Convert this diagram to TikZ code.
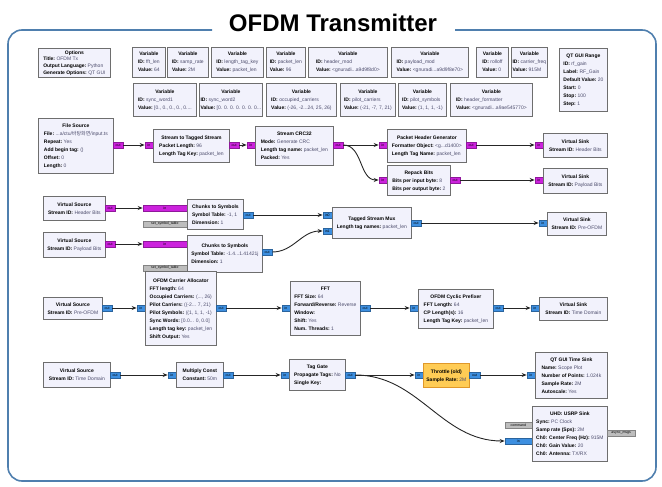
\documentclass[tikz,border=0pt]{standalone}
\usepackage{fontspec}
\setmainfont{Liberation Sans}
\newfontfamily\krfont{Noto Sans CJK KR}
\usetikzlibrary{arrows.meta, positioning}

\definecolor{blkfill}{HTML}{F2F2FC}
\definecolor{blkline}{HTML}{6E6E6E}
\definecolor{valtext}{HTML}{4C4C6C}
\definecolor{bytecol}{HTML}{CC22DD}
\definecolor{cplxcol}{HTML}{3D8FE0}
\definecolor{msgcol}{HTML}{BDBDBD}
\definecolor{framecol}{HTML}{4F7FAE}
\definecolor{thrfill}{HTML}{FFCC55}
\definecolor{thrline}{HTML}{E0982A}

% block text: centred title, then key: value lines
\newcommand{\grc}[2]{\begin{tabular}{@{}l@{}}\multicolumn{1}{@{}c@{}}{\textbf{#1}}\\#2\end{tabular}}
\newcommand{\kv}[2]{\textbf{#1:}~\textcolor{valtext}{#2}}

\tikzset{
	blk/.style={draw=blkline, fill=blkfill, line width=0.8pt, anchor=north west,
		inner sep=0.5pt, font=\fontsize{5}{8}\selectfont},
	port/.style={minimum height=6.5, minimum width=8, inner sep=0pt, line width=0.3pt,
		font=\fontsize{3.5}{4}\selectfont},
	pb/.style={port, fill=bytecol, draw=bytecol!70!black},
	pc/.style={port, fill=cplxcol, draw=cplxcol!70!black},
	pm/.style={port, fill=msgcol, draw=msgcol!70!black},
	conn/.style={-{Stealth[length=5pt,width=4pt]}, line width=0.9pt, black!85},
	frame/.style={draw=framecol, line width=1.6pt, rounded corners=14pt}
}

\begin{document}
\begin{tikzpicture}[x=1pt, y=-1pt]
	\useasboundingbox (0,0) rectangle (662,487);
	
	\draw[frame] (212,30) -- (8,30) -- (8,481) -- (656,481) -- (656,30) -- (455,30);
	\node[anchor=base, font=\fontsize{24}{26}\selectfont\bfseries] (title) at (333,32) {OFDM Transmitter};
	
	% options and variables
	\node[blk, minimum width=72, minimum height=29, font=\fontsize{5}{6.6}\selectfont] (opts) at (38,48)
		{\grc{Options}{\kv{Title}{OFDM Tx}\\\kv{Output Language}{Python}\\\kv{Generate Options}{QT GUI}}};
	\node[blk, minimum width=33, minimum height=30] (fftlen) at (132,47) {\grc{Variable}{\kv{ID}{fft\_len}\\\kv{Value}{64}}};
	\node[blk, minimum width=41, minimum height=30] (samprate) at (167,47) {\grc{Variable}{\kv{ID}{samp\_rate}\\\kv{Value}{2M}}};
	\node[blk, minimum width=52, minimum height=30] (lentag) at (211,47) {\grc{Variable}{\kv{ID}{length\_tag\_key}\\\kv{Value}{packet\_len}}};
	\node[blk, minimum width=39, minimum height=30] (pktlen) at (266,47) {\grc{Variable}{\kv{ID}{packet\_len}\\\kv{Value}{96}}};
	\node[blk, minimum width=79, minimum height=30] (hdrmod) at (308,47) {\grc{Variable}{\kv{ID}{header\_mod}\\\kv{Value}{<gnuradi...a9d9f8d0>}}};
	\node[blk, minimum width=77, minimum height=30] (paymod) at (391,47) {\grc{Variable}{\kv{ID}{payload\_mod}\\\kv{Value}{<gnuradi...a9d9f8e70>}}};
	\node[blk, minimum width=32, minimum height=30] (rolloff) at (476,47) {\grc{Variable}{\kv{ID}{rolloff}\\\kv{Value}{0}}};
	\node[blk, minimum width=36, minimum height=30] (cfreq) at (511,47) {\grc{Variable}{\kv{ID}{carrier\_freq}\\\kv{Value}{915M}}};
	\node[blk, minimum width=48, minimum height=63] (rfgain) at (559,48)
		{\grc{QT GUI Range}{\kv{ID}{rf\_gain}\\\kv{Label}{RF\_Gain}\\\kv{Default Value}{20}\\\kv{Start}{0}\\\kv{Stop}{100}\\\kv{Step}{1}}};
	
	\node[blk, minimum width=63, minimum height=33] (sync1) at (133,83) {\grc{Variable}{\kv{ID}{sync\_word1}\\\kv{Value}{[0., 0., 0., 0., 0....}}};
	\node[blk, minimum width=63, minimum height=33] (sync2) at (199,83) {\grc{Variable}{\kv{ID}{sync\_word2}\\\kv{Value}{[0. 0. 0. 0. 0. 0. 0...}}};
	\node[blk, minimum width=70, minimum height=33] (occ) at (266,83) {\grc{Variable}{\kv{ID}{occupied\_carriers}\\\kv{Value}{(-26, -2...24, 25, 26)}}};
	\node[blk, minimum width=55, minimum height=33] (pcar) at (340,83) {\grc{Variable}{\kv{ID}{pilot\_carriers}\\\kv{Value}{(-21, -7, 7, 21)}}};
	\node[blk, minimum width=48, minimum height=33] (psym) at (398,83) {\grc{Variable}{\kv{ID}{pilot\_symbols}\\\kv{Value}{(1, 1, 1, -1)}}};
	\node[blk, minimum width=82, minimum height=33] (hfmt) at (450,83) {\grc{Variable}{\kv{ID}{header\_formatter}\\\kv{Value}{<gnuradi...a9ae545770>}}};
	
	% bits path
	\node[blk, minimum width=75, minimum height=55] (fsrc) at (38,118)
		{\grc{File Source}{\kv{File}{...a/ctu/{\krfont 바탕화면}/input.ts}\\\kv{Repeat}{Yes}\\\kv{Add begin tag}{()}\\\kv{Offset}{0}\\\kv{Length}{0}}};
	\node[pb, anchor=west, minimum width=10] (fsrcout) at (113,145) {out};
	
	\node[pb, anchor=east] (s2tsin) at (153,145) {in};
	\node[blk, minimum width=76, minimum height=33] (s2ts) at (153,129) {\grc{Stream to Tagged Stream}{\kv{Packet Length}{96}\\\kv{Length Tag Key}{packet\_len}}};
	\node[pb, anchor=west, minimum width=10] (s2tsout) at (229,145) {out};
	
	\node[pb, anchor=east] (crcin) at (255,145) {in};
	\node[blk, minimum width=78, minimum height=39] (crc) at (255,126) {\grc{Stream CRC32}{\kv{Mode}{Generate CRC}\\\kv{Length tag name}{packet\_len}\\\kv{Packed}{Yes}}};
	\node[pb, anchor=west, minimum width=10] (crcout) at (333,145) {out};
	
	\node[pb, anchor=east] (phgin) at (387,145) {in};
	\node[blk, minimum width=79, minimum height=33] (phg) at (387,129) {\grc{Packet Header Generator}{\kv{Formatter Object}{<g...d1400>}\\\kv{Length Tag Name}{packet\_len}}};
	\node[pb, anchor=west, minimum width=10] (phgout) at (466,145) {out};
	
	\node[pb, anchor=east] (vsinkhin) at (543,145) {in};
	\node[blk, minimum width=64, minimum height=24] (vsinkh) at (543,133) {\grc{Virtual Sink}{\kv{Stream ID}{Header Bits}}};
	
	\node[pb, anchor=east] (repin) at (387,180) {in};
	\node[blk, minimum width=63, minimum height=30] (repack) at (387,165) {\grc{Repack Bits}{\kv{Bits per input byte}{8}\\\kv{Bits per output byte}{2}}};
	\node[pb, anchor=west, minimum width=10] (repout) at (450,180) {out};
	
	\node[pb, anchor=east] (vsinkpin) at (543,180) {in};
	\node[blk, minimum width=64, minimum height=25] (vsinkp) at (543,168) {\grc{Virtual Sink}{\kv{Stream ID}{Payload Bits}}};
	
	% symbols and mux
	\node[blk, minimum width=62, minimum height=24] (vsrch) at (43,196) {\grc{Virtual Source}{\kv{Stream ID}{Header Bits}}};
	\node[pb, anchor=west, minimum width=10] (vsrchout) at (105,208) {out};
	\node[pb, anchor=east, minimum width=44] (ch1in) at (187,208) {in};
	\node[pm, anchor=east, minimum width=44] (ch1sst) at (187,224) {set\_symbol\_table};
	\node[blk, minimum width=56, minimum height=30] (chunks1) at (187,199) {\grc{Chunks to Symbols}{\kv{Symbol Table}{-1, 1}\\\kv{Dimension}{1}}};
	\node[pc, anchor=west, minimum width=10] (ch1out) at (243,215) {out};
	
	\node[blk, minimum width=62, minimum height=25] (vsrcp) at (43,232) {\grc{Virtual Source}{\kv{Stream ID}{Payload Bits}}};
	\node[pb, anchor=west, minimum width=10] (vsrcpout) at (105,244) {out};
	\node[pb, anchor=east, minimum width=44] (ch2in) at (187,244) {in};
	\node[pm, anchor=east, minimum width=44] (ch2sst) at (187,268) {set\_symbol\_table};
	\node[blk, minimum width=75, minimum height=37] (chunks2) at (187,235) {\grc{Chunks to Symbols}{\kv{Symbol Table}{-1.4...1.41421j}\\\kv{Dimension}{1}}};
	\node[pc, anchor=west, minimum width=10] (ch2out) at (262,252) {out};
	
	\node[pc, anchor=east, minimum width=9] (muxin0) at (332,215) {in0};
	\node[pc, anchor=east, minimum width=9] (muxin1) at (332,231) {in1};
	\node[blk, minimum width=79, minimum height=31] (mux) at (332,207) {\grc{Tagged Stream Mux}{\kv{Length tag names}{packet\_len}}};
	\node[pc, anchor=west, minimum width=10] (muxout) at (411,223) {out};
	
	\node[pc, anchor=east] (vsinkprein) at (547,223) {in};
	\node[blk, minimum width=59, minimum height=23] (vsinkpre) at (547,212) {\grc{Virtual Sink}{\kv{Stream ID}{Pre-OFDM}}};
	
	% ofdm path
	\node[blk, minimum width=59, minimum height=22] (vsrcpre) at (43,297) {\grc{Virtual Source}{\kv{Stream ID}{Pre-OFDM}}};
	\node[pc, anchor=west, minimum width=10] (vsrcpreout) at (102,308) {out};
	
	\node[pc, anchor=east] (allocin) at (145,308) {in};
	\node[blk, minimum width=71, minimum height=74] (alloc) at (145,271)
		{\grc{OFDM Carrier Allocator}{\kv{FFT length}{64}\\\kv{Occupied Carriers}{(..., 26)}\\\kv{Pilot Carriers}{((-2... 7, 21)}\\\kv{Pilot Symbols}{((1, 1, 1, -1)}\\\kv{Sync Words}{[0.0... 0, 0.0]}\\\kv{Length tag key}{packet\_len}\\\kv{Shift Output}{Yes}}};
	\node[pc, anchor=west, minimum width=10] (allocout) at (216,308) {out};
	
	\node[pc, anchor=east] (fftin) at (290,308) {in};
	\node[blk, minimum width=70, minimum height=54] (fft) at (290,281)
		{\grc{FFT}{\kv{FFT Size}{64}\\\kv{Forward/Reverse}{Reverse}\\\kv{Window}{}\\\kv{Shift}{Yes}\\\kv{Num. Threads}{1}}};
	\node[pc, anchor=west, minimum width=10] (fftout) at (360,308) {out};
	
	\node[pc, anchor=east] (cpin) at (418,308) {in};
	\node[blk, minimum width=75, minimum height=39] (cp) at (418,289)
		{\grc{OFDM Cyclic Prefixer}{\kv{FFT Length}{64}\\\kv{CP Length(s)}{16}\\\kv{Length Tag Key}{packet\_len}}};
	\node[pc, anchor=west, minimum width=10] (cpout) at (493,308) {out};
	
	\node[pc, anchor=east] (vsinktdin) at (539,308) {in};
	\node[blk, minimum width=68, minimum height=23] (vsinktd) at (539,297) {\grc{Virtual Sink}{\kv{Stream ID}{Time Domain}}};
	
	% transmit path
	\node[blk, minimum width=67, minimum height=25] (vsrctd) at (43,362) {\grc{Virtual Source}{\kv{Stream ID}{Time Domain}}};
	\node[pc, anchor=west, minimum width=10] (vsrctdout) at (110,375) {out};
	
	\node[pc, anchor=east] (multin) at (176,375) {in};
	\node[blk, minimum width=47, minimum height=25] (mult) at (176,362) {\grc{Multiply Const}{\kv{Constant}{50m}}};
	\node[pc, anchor=west, minimum width=10] (multout) at (223,375) {out};
	
	\node[pc, anchor=east] (tgatein) at (289,375) {in};
	\node[blk, minimum width=56, minimum height=31] (tgate) at (289,359) {\grc{Tag Gate}{\kv{Propagate Tags}{No}\\\kv{Single Key}{}}};
	\node[pc, anchor=west, minimum width=10] (tgateout) at (345,375) {out};
	
	\node[pc, anchor=east] (thrin) at (423,375) {in};
	\node[blk, fill=thrfill, draw=thrline, minimum width=46, minimum height=24] (thr) at (423,363) {\grc{Throttle (old)}{\kv{Sample Rate}{2M}}};
	\node[pc, anchor=west, minimum width=11] (throut) at (469,375) {out};
	
	\node[pc, anchor=east] (tsinkin) at (535,375) {in};
	\node[blk, minimum width=72, minimum height=46] (tsink) at (535,352)
		{\grc{QT GUI Time Sink}{\kv{Name}{Scope Plot}\\\kv{Number of Points}{1.024k}\\\kv{Sample Rate}{2M}\\\kv{Autoscale}{Yes}}};
	
	\node[pm, anchor=east, minimum width=27] (usrpcmd) at (532,425) {command};
	\node[pc, anchor=east, minimum width=27] (usrpin) at (532,441) {in};
	\node[blk, minimum width=75, minimum height=55] (usrp) at (532,406)
		{\grc{UHD: USRP Sink}{\kv{Sync}{PC Clock}\\\kv{Samp rate (Sps)}{2M}\\\kv{Ch0: Center Freq (Hz)}{915M}\\\kv{Ch0: Gain Value}{20}\\\kv{Ch0: Antenna}{TX/RX}}};
	\node[pm, anchor=west, minimum width=28] (usrpasync) at (607,433) {async\_msgs};
	
	\draw[conn] (fsrcout) -- (s2tsin);
	\draw[conn] (s2tsout) -- (crcin);
	\draw[conn] (crcout) -- (phgin);
	\draw[conn] (crcout.east) to[out=0, in=180] (repin.west);
	\draw[conn] (phgout) -- (vsinkhin);
	\draw[conn] (repout) -- (vsinkpin);
	
	\draw[conn] (vsrchout) -- (ch1in);
	\draw[conn] (vsrcpout) -- (ch2in);
	\draw[conn] (ch1out) -- (muxin0);
	\draw[conn] (ch2out.east) to[out=0, in=180] (muxin1.west);
	\draw[conn] (muxout) -- (vsinkprein);
	
	\draw[conn] (vsrcpreout) -- (allocin);
	\draw[conn] (allocout) -- (fftin);
	\draw[conn] (fftout) -- (cpin);
	\draw[conn] (cpout) -- (vsinktdin);
	
	\draw[conn] (vsrctdout) -- (multin);
	\draw[conn] (multout) -- (tgatein);
	\draw[conn] (tgateout) -- (thrin);
	\draw[conn] (throut) -- (tsinkin);
	\draw[conn] (tgateout.east) to[out=0, in=180] (usrpin.west);
\end{tikzpicture}
\end{document}
